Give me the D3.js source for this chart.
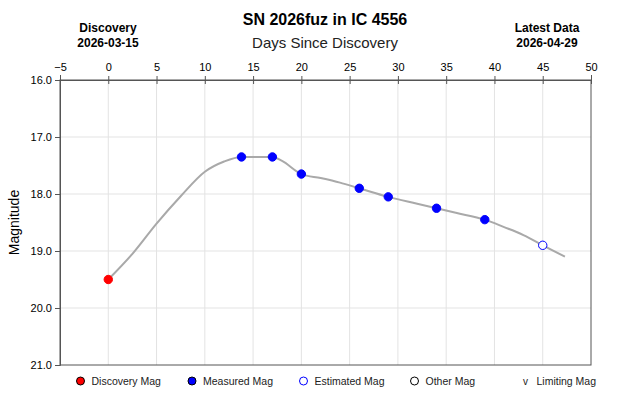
<!DOCTYPE html>
<html>
<head>
<meta charset="utf-8">
<script src="https://cdn.jsdelivr.net/npm/d3@7"></script>
<style>
  body { margin: 0; background: #fff; }
  svg { font-family: "Liberation Sans", Arial, sans-serif; display: block; }
</style>
</head>
<body>
<div id="chart"></div>
<script>
// light curve of SN 2026fuz

// gray model curve (days since discovery, magnitude)
const curveDays = [0, 2.5, 5, 7.5, 10, 12, 13.8, 17, 18, 20, 22, 24, 26, 29, 32, 34, 36, 39, 41, 43, 45, 47.3];
const curveMags = [19.5, 19.05, 18.52, 18.04, 17.61, 17.43, 17.35, 17.35, 17.42, 17.65, 17.72, 17.8, 17.9, 18.05, 18.17, 18.25, 18.33, 18.45, 18.58, 18.72, 18.9, 19.1];

const discoveryDays = [0];
const discoveryMags = [19.5];

const measuredDays = [13.8, 17, 20, 26, 29, 34, 39];
const measuredMags = [17.35, 17.35, 17.65, 17.9, 18.05, 18.25, 18.45];

const estimatedDays = [45];
const estimatedMags = [18.9];

const xTicks = [-5, 0, 5, 10, 15, 20, 25, 30, 35, 40, 45, 50];
const yTicks = [16, 17, 18, 19, 20, 21];

const legendItems = [
  { label: 'Discovery Mag', kind: 'dot', fill: '#ff0000', stroke: '#000' },
  { label: 'Measured Mag', kind: 'dot', fill: '#0000ff', stroke: '#000' },
  { label: 'Estimated Mag', kind: 'dot', fill: '#fff', stroke: '#0000ff' },
  { label: 'Other Mag', kind: 'dot', fill: '#fff', stroke: '#000' },
  { label: 'Limiting Mag', kind: 'v' }
];

const W = 630, H = 405;
const M = { top: 80, right: 39, bottom: 40, left: 60 };

const svg = d3.select('#chart').append('svg')
  .attr('width', W)
  .attr('height', H);

const x = d3.scaleLinear().domain([-5, 50]).range([M.left, W - M.right]);
const y = d3.scaleLinear().domain([16, 21]).range([M.top, H - M.bottom]);

// grid
const grid = svg.append('g');
grid.selectAll('line.vg')
  .data(xTicks.slice(1, -1))
  .join('line')
  .attr('x1', d => x(d)).attr('x2', d => x(d))
  .attr('y1', y(16)).attr('y2', y(21))
  .attr('stroke', '#e3e3e3').attr('stroke-width', 1);
grid.selectAll('line.hg')
  .data(yTicks.slice(1, -1))
  .join('line')
  .attr('y1', d => y(d)).attr('y2', d => y(d))
  .attr('x1', x(-5)).attr('x2', x(50))
  .attr('stroke', '#e3e3e3').attr('stroke-width', 1);

// frame
svg.append('rect')
  .attr('x', x(-5)).attr('y', y(16))
  .attr('width', x(50) - x(-5)).attr('height', y(21) - y(16))
  .attr('fill', 'none').attr('stroke', '#555').attr('stroke-width', 1);

// top axis
const xAxis = svg.append('g')
  .attr('transform', `translate(0,${y(16)})`)
  .call(d3.axisTop(x).tickValues(xTicks).tickSize(5).tickPadding(4).tickFormat(d3.format('d')));
xAxis.select('.domain').attr('stroke', '#555');
xAxis.selectAll('.tick line').attr('stroke', '#555').attr('y2', 4).attr('y1', -4);
xAxis.selectAll('text').attr('font-size', 11).attr('fill', '#000');

// left axis
const yAxis = svg.append('g')
  .attr('transform', `translate(${x(-5)},0)`)
  .call(d3.axisLeft(y).tickValues(yTicks).tickSize(5).tickPadding(3).tickFormat(d3.format('.1f')));
yAxis.select('.domain').attr('stroke', '#555');
yAxis.selectAll('.tick line').attr('stroke', '#555');
yAxis.selectAll('text').attr('font-size', 11).attr('fill', '#000');

// model curve
const line = d3.line()
  .x(d => x(d[0]))
  .y(d => y(d[1]))
  .curve(d3.curveMonotoneX);
svg.append('path')
  .datum(d3.zip(curveDays, curveMags))
  .attr('d', line)
  .attr('fill', 'none')
  .attr('stroke', '#a9a9a9')
  .attr('stroke-width', 2);

// points
function drawPoints(days, mags, fill, stroke) {
  svg.append('g').selectAll('circle')
    .data(d3.zip(days, mags))
    .join('circle')
    .attr('cx', d => x(d[0]))
    .attr('cy', d => y(d[1]))
    .attr('r', 4.2)
    .attr('fill', fill)
    .attr('stroke', stroke)
    .attr('stroke-width', 1);
}
drawPoints(discoveryDays, discoveryMags, '#ff0000', '#ff0000');
drawPoints(measuredDays, measuredMags, '#0000ff', '#0000ff');
drawPoints(estimatedDays, estimatedMags, '#fff', '#0000ff');

// titles
svg.append('text')
  .attr('x', 325).attr('y', 25)
  .attr('text-anchor', 'middle')
  .attr('font-size', 16).attr('font-weight', 'bold')
  .text('SN 2026fuz in IC 4556');
svg.append('text')
  .attr('x', 325).attr('y', 48)
  .attr('text-anchor', 'middle')
  .attr('font-size', 15).attr('fill', '#222')
  .text('Days Since Discovery');

const sideLabels = [
  { cx: 108, lines: ['Discovery', '2026-03-15'] },
  { cx: 547, lines: ['Latest Data', '2026-04-29'] }
];
sideLabels.forEach(s => {
  s.lines.forEach((t, i) => {
    svg.append('text')
      .attr('x', s.cx).attr('y', 32 + i * 15)
      .attr('text-anchor', 'middle')
      .attr('font-size', 12).attr('font-weight', 'bold')
      .text(t);
  });
});

// y label
svg.append('text')
  .attr('transform', `translate(19,${(y(16) + y(21)) / 2}) rotate(-90)`)
  .attr('text-anchor', 'middle')
  .attr('font-size', 14)
  .text('Magnitude');

// legend
const legendX = [80.5, 192, 303.5, 414.5, 525.5];
const legend = svg.append('g').attr('transform', 'translate(0,381)');
legendItems.forEach((item, i) => {
  const g = legend.append('g').attr('transform', `translate(${legendX[i]},0)`);
  if (item.kind === 'dot') {
    g.append('circle')
      .attr('r', 4).attr('fill', item.fill)
      .attr('stroke', item.stroke).attr('stroke-width', 1);
  } else {
    g.append('text')
      .attr('text-anchor', 'middle').attr('y', 4)
      .attr('font-size', 10).attr('fill', '#222')
      .text('v');
  }
  g.append('text')
    .attr('x', 11).attr('y', 4)
    .attr('font-size', 10.5).attr('fill', '#222')
    .text(item.label);
});
</script>
</body>
</html>
